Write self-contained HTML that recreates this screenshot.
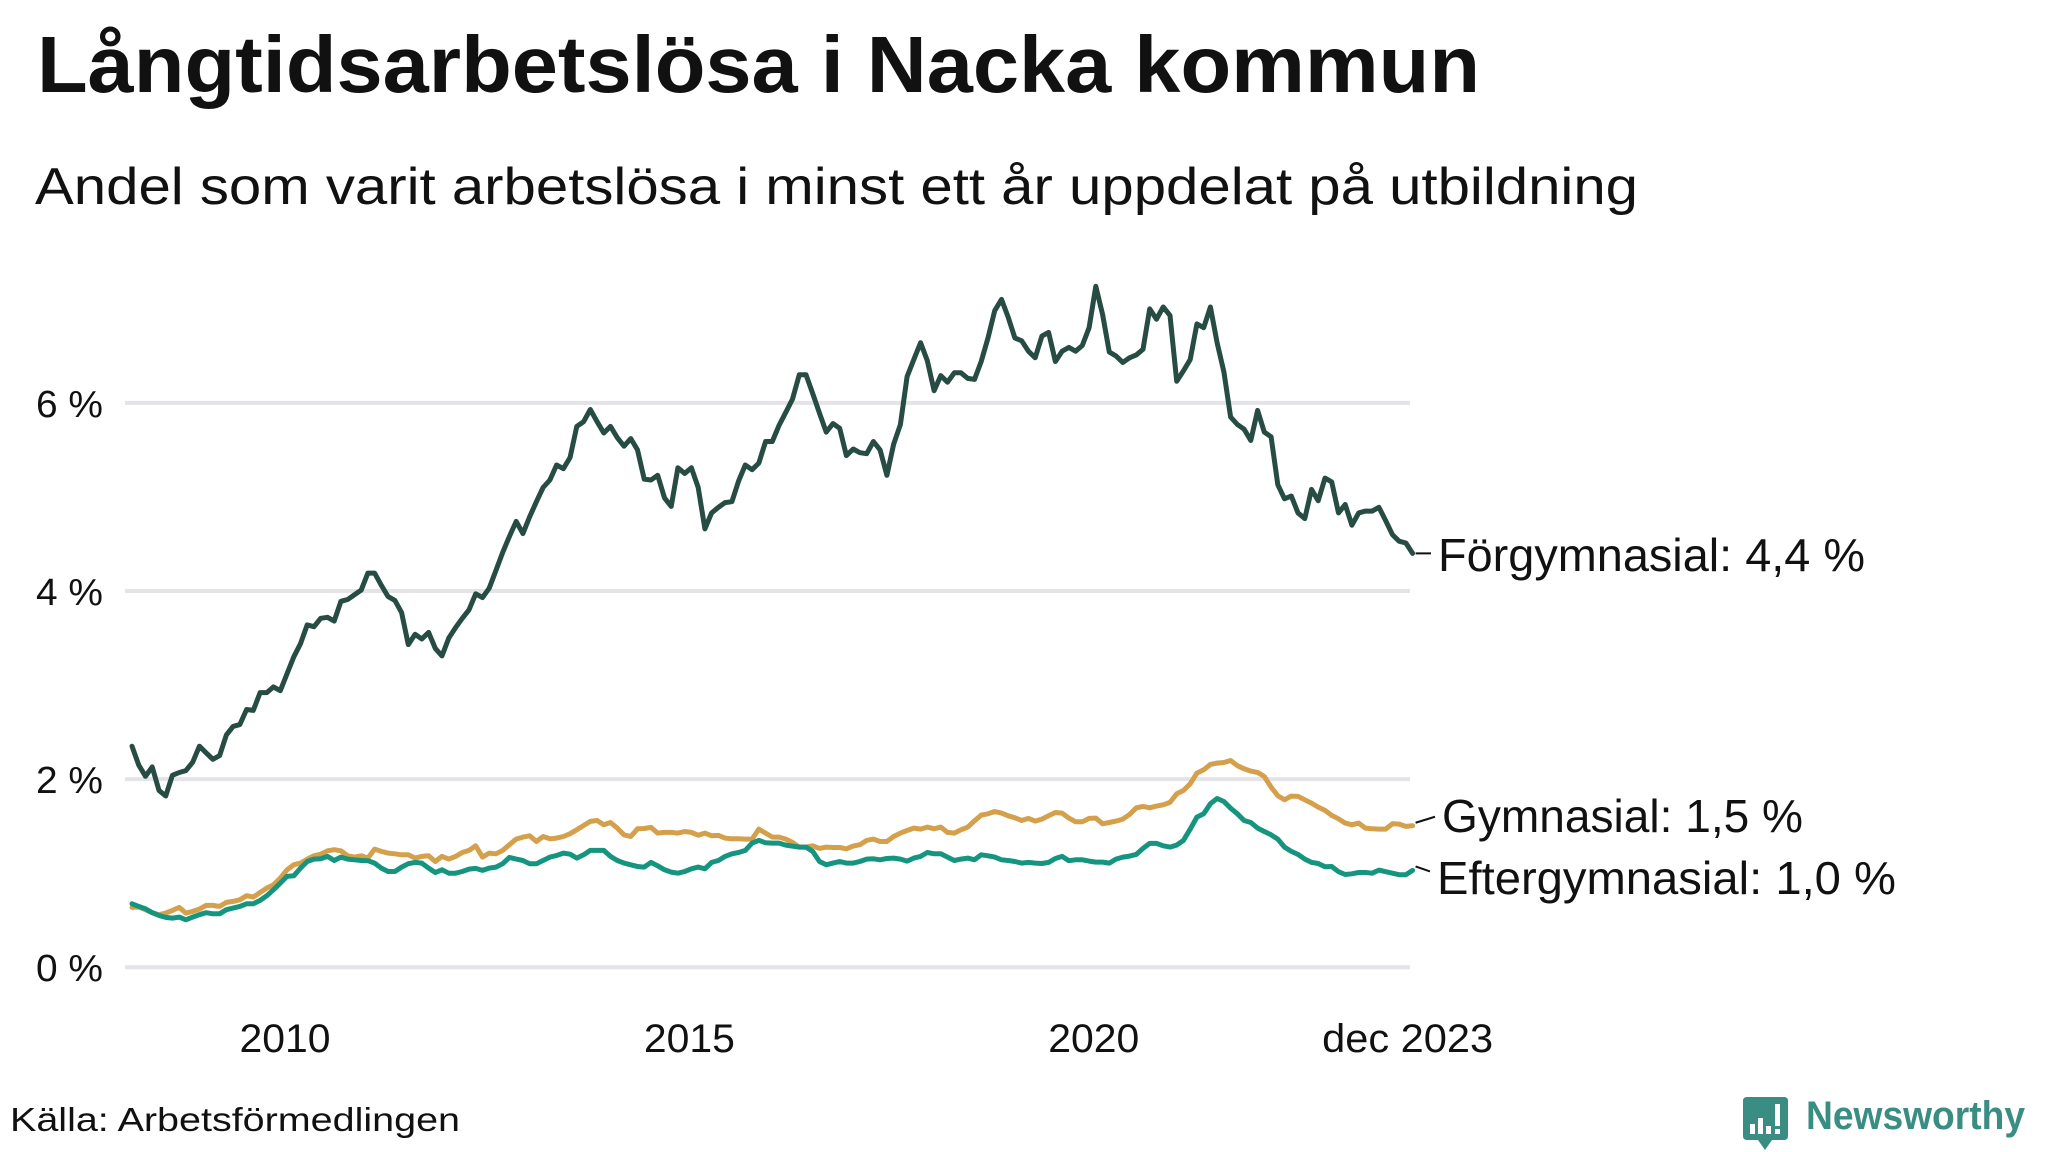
<!DOCTYPE html>
<html><head><meta charset="utf-8"><style>
html,body{margin:0;padding:0;background:#fff;}
svg{display:block;font-family:"Liberation Sans",sans-serif;}
</style></head><body>
<svg id="chart" width="2048" height="1152" viewBox="0 0 2048 1152" xmlns="http://www.w3.org/2000/svg">
<rect width="2048" height="1152" fill="#fff"/>
<text x="37" y="92" font-size="80" font-weight="bold" fill="#111" textLength="1443" lengthAdjust="spacingAndGlyphs">Långtidsarbetslösa i Nacka kommun</text>
<text x="35" y="204" font-size="52" fill="#111" textLength="1603" lengthAdjust="spacingAndGlyphs">Andel som varit arbetslösa i minst ett år uppdelat på utbildning</text>
<g id="grid"></g>
<g id="ylabels"></g>
<g id="xlabels"></g>
<g id="series"></g>
<g id="labels"></g>
<text x="10" y="1131" font-size="33" fill="#111" textLength="450" lengthAdjust="spacingAndGlyphs">Källa: Arbetsförmedlingen</text>
<g>
<path d="M1747 1097 H1784 Q1788 1097 1788 1101 V1136 Q1788 1140 1784 1140 H1772 L1765 1150 L1758 1140 H1747 Q1743 1140 1743 1136 V1101 Q1743 1097 1747 1097 Z" fill="#3a8d83"/>
<rect x="1750" y="1124" width="5" height="10" fill="#fff"/>
<rect x="1758" y="1118" width="5" height="16" fill="#fff"/>
<rect x="1766" y="1126" width="5" height="8" fill="#fff"/>
<rect x="1775" y="1104" width="5" height="22" fill="#fff"/>
<rect x="1775" y="1129" width="5" height="5" fill="#fff"/>
<text x="1806" y="1129" font-size="40" font-weight="bold" fill="#3a8d83" textLength="219" lengthAdjust="spacingAndGlyphs">Newsworthy</text>
</g>
</svg>
<script>
const startYear = 2008, startMonth = 2;
const yTicks = [0, 2, 4, 6];
const yTickLabels = ["0 %", "2 %", "4 %", "6 %"];
const xTickYears = [2010, 2015, 2020];
const xTickLabels = ["2010", "2015", "2020"];
const endTickLabel = "dec 2023";
const forgymnasial = [2.35,2.15,2.03,2.13,1.88,1.82,2.04,2.07,2.09,2.18,2.35,2.28,2.21,2.25,2.47,2.56,2.58,2.74,2.73,2.92,2.92,2.98,2.94,3.12,3.30,3.44,3.64,3.62,3.71,3.72,3.68,3.89,3.91,3.96,4.01,4.19,4.19,4.06,3.94,3.90,3.77,3.43,3.54,3.49,3.56,3.39,3.31,3.50,
3.61,3.71,3.80,3.97,3.93,4.03,4.22,4.41,4.58,4.74,4.61,4.79,4.95,5.10,5.18,5.34,5.30,5.42,5.75,5.80,5.93,5.80,5.68,5.75,5.63,5.54,5.62,5.50,5.19,5.18,5.23,4.99,4.90,5.31,5.25,5.31,5.10,4.66,4.83,4.89,4.94,4.95,5.17,5.34,5.29,5.36,5.59,5.59,
5.76,5.90,6.04,6.30,6.30,6.10,5.89,5.69,5.78,5.73,5.44,5.51,5.47,5.46,5.59,5.50,5.23,5.56,5.77,6.28,6.46,6.64,6.45,6.13,6.29,6.22,6.32,6.32,6.26,6.25,6.44,6.69,6.98,7.10,6.91,6.69,6.66,6.55,6.48,6.71,6.75,6.44,6.55,6.59,6.55,6.61,6.80,
7.24,6.94,6.54,6.50,6.43,6.48,6.51,6.57,7.00,6.89,7.02,6.93,6.23,6.34,6.46,6.84,6.80,7.02,6.64,6.33,5.85,5.77,5.72,5.60,5.92,5.69,5.64,5.13,4.98,5.01,4.83,4.77,5.08,4.96,5.20,5.16,4.83,4.92,4.70,4.83,4.85,4.85,4.89,4.75,4.60,4.53,4.51,4.40];
const gymnasial = [0.636,0.64,0.611,0.58,0.558,0.575,0.604,0.636,0.575,0.593,0.618,0.657,0.657,0.646,0.689,0.70,0.717,0.76,0.745,0.795,0.841,0.876,0.947,1.036,1.089,1.107,1.149,1.185,1.202,1.238,1.249,1.238,1.185,1.171,1.185,1.16,1.256,1.231,1.213,1.206,1.195,1.195,1.16,1.178,1.185,1.124,1.178,1.149,
1.178,1.22,1.242,1.291,1.171,1.213,1.206,1.242,1.302,1.362,1.383,1.397,1.337,1.39,1.365,1.373,1.39,1.419,1.461,1.507,1.55,1.56,1.514,1.539,1.479,1.408,1.39,1.472,1.475,1.486,1.426,1.433,1.433,1.426,1.443,1.433,1.404,1.426,1.397,1.401,1.373,1.365,1.365,1.362,1.362,1.468,
1.426,1.383,1.383,1.362,1.327,1.277,1.277,1.291,1.263,1.277,1.273,1.273,1.259,1.288,1.302,1.348,1.362,1.337,1.337,1.39,1.426,1.454,1.479,1.468,1.49,1.472,1.49,1.433,1.426,1.461,1.49,1.557,1.617,1.631,1.656,1.638,1.61,1.589,1.56,1.582,1.553,1.575,1.61,1.645,1.638,1.585,1.546,
1.546,1.582,1.585,1.525,1.539,1.553,1.575,1.624,1.695,1.709,1.695,1.713,1.727,1.752,1.844,1.879,1.95,2.064,2.099,2.156,2.17,2.177,2.198,2.142,2.11,2.085,2.071,2.028,1.915,1.823,1.78,1.819,1.816,1.78,1.745,1.702,1.667,1.614,1.578,1.532,1.514,1.532,1.479,1.472,1.468,1.468,1.525,1.521,1.497,1.504];
const eftergymnasial = [0.674,0.646,0.621,0.58,0.55,0.529,0.522,0.533,0.504,0.533,0.558,0.58,0.568,0.568,0.611,0.628,0.646,0.674,0.674,0.71,0.76,0.823,0.894,0.965,0.972,1.054,1.124,1.149,1.153,1.178,1.135,1.171,1.149,1.142,1.135,1.132,1.107,1.054,1.018,1.018,1.064,1.1,1.114,1.107,1.054,1.007,1.036,1.0,
1.0,1.018,1.043,1.05,1.029,1.054,1.064,1.1,1.167,1.149,1.135,1.1,1.1,1.135,1.171,1.188,1.213,1.202,1.16,1.195,1.242,1.242,1.242,1.178,1.135,1.107,1.089,1.071,1.064,1.114,1.078,1.036,1.011,1.0,1.018,1.046,1.064,1.046,1.114,1.135,1.178,1.206,1.22,1.242,1.32,1.348,
1.323,1.32,1.32,1.298,1.288,1.277,1.277,1.231,1.124,1.089,1.107,1.124,1.107,1.107,1.124,1.149,1.153,1.142,1.156,1.16,1.149,1.128,1.16,1.178,1.22,1.206,1.206,1.171,1.135,1.149,1.16,1.142,1.195,1.185,1.171,1.142,1.135,1.124,1.107,1.114,1.107,1.103,1.114,1.156,1.178,1.132,1.142,1.142,
1.128,1.117,1.117,1.107,1.149,1.171,1.181,1.199,1.263,1.316,1.316,1.291,1.277,1.298,1.348,1.468,1.596,1.631,1.738,1.794,1.762,1.691,1.631,1.56,1.539,1.479,1.443,1.408,1.362,1.277,1.231,1.199,1.149,1.114,1.103,1.068,1.071,1.015,0.986,0.993,1.007,1.007,1.0,1.032,1.015,1.0,0.983,0.983,1.029];
const seriesNames = ["Förgymnasial", "Gymnasial", "Eftergymnasial"];
const seriesLabelText = ["Förgymnasial: 4,4 %", "Gymnasial: 1,5 %", "Eftergymnasial: 1,0 %"];

const NS = "http://www.w3.org/2000/svg";
const X0 = 132, DX = 6.74, Y0 = 967.2, DY = 94.05;
function xScale(i){ return X0 + DX * i; }
function xYear(year){ return xScale((year - startYear) * 12 - (startMonth - 1)); }
function yScale(v){ return Y0 - DY * v; }
function mk(tag, attrs, parent){
  const e = document.createElementNS(NS, tag);
  for (const k in attrs) e.setAttribute(k, attrs[k]);
  parent.appendChild(e);
  return e;
}
const grid = document.getElementById("grid");
const yl = document.getElementById("ylabels");
yTicks.forEach((t, k) => {
  const l = mk("line", {x1:125, x2:1410, y1:yScale(t), y2:yScale(t), stroke:"#e3e3e8", "stroke-width":4}, grid);
  
  
  const tx = mk("text", {x:36, y:yScale(t)+14, "font-size":38, fill:"#111", textLength:67, lengthAdjust:"spacingAndGlyphs"}, yl);
  tx.textContent = yTickLabels[k];
  
  
});
const xl = document.getElementById("xlabels");
xTickYears.forEach((yr, k) => {
  const tx = mk("text", {x:xYear(yr)-2, y:1052, "font-size":40, fill:"#111", "text-anchor":"middle", textLength:91, lengthAdjust:"spacingAndGlyphs"}, xl);
  tx.textContent = xTickLabels[k];
  
  
});
const endTx = mk("text", {x:xScale(forgymnasial.length-1)-5, y:1052, "font-size":40, fill:"#111", "text-anchor":"middle", textLength:171, lengthAdjust:"spacingAndGlyphs"}, xl);
endTx.textContent = endTickLabel;



const sg = document.getElementById("series");
const allSeries = [forgymnasial, gymnasial, eftergymnasial];
const colors = ["#264c44", "#d4a04b", "#15957f"];
const order = [1, 2, 0];
order.forEach(s => {
  const d = allSeries[s].map((v, i) => (i ? "L" : "M") + xScale(i).toFixed(1) + " " + yScale(v).toFixed(1)).join(" ");
  const p = mk("path", {d:d, fill:"none", stroke:colors[s], "stroke-width":5, "stroke-linejoin":"round", "stroke-linecap":"round"}, sg);
  
  
});

const lg = document.getElementById("labels");
const labelBase = [571, 832, 894];
const labelX = [1438, 1442, 1437];
const labelLen = [427, 361, 459];
const leaderY = [[0,0],[-3,-9],[-4,1]];
allSeries.forEach((arr, s) => {
  const last = arr.length - 1;
  const ly = yScale(arr[last]);
  const ln = mk("line", {x1:xScale(last)+3, x2:labelX[s]-7, y1:ly+leaderY[s][0], y2:ly+leaderY[s][1], stroke:"#111", "stroke-width":2}, lg);
  
  
  const tx = mk("text", {x:labelX[s], y:labelBase[s], "font-size":46, fill:"#111", textLength:labelLen[s], lengthAdjust:"spacingAndGlyphs"}, lg);
  tx.textContent = seriesLabelText[s];
  
  
});
</script>
</body></html>
